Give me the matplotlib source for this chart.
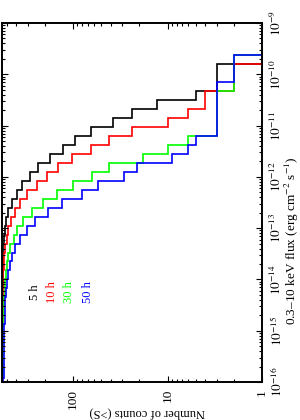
import numpy as np
import matplotlib
matplotlib.use("Agg")
import matplotlib.pyplot as plt
from matplotlib.ticker import LogLocator, NullFormatter

plt.rcParams['font.family'] = ['Liberation Serif', 'DejaVu Serif']
plt.rcParams['mathtext.fontset'] = 'stix'

# log10 flux bin edges, bright -> faint
log_flux_edges = [-9.0, -9.625, -9.8, -9.975, -10.15, -10.325, -10.5, -10.675,
                  -10.85, -11.025, -11.2, -11.375, -11.55, -11.725, -11.9,
                  -12.075, -12.25, -12.425, -12.6, -12.775, -12.95, -13.125,
                  -13.3, -13.475, -13.65, -13.825, -14.0, -14.175, -14.35,
                  -14.525, -14.7, -14.875, -15.05, -15.225, -15.4, -15.575,
                  -15.75, -15.925, -16.0]

# cumulative counts N(>S) in each flux bin, bright -> faint
counts_5h = [1, 1, 3, 3, 3, 5, 13, 24, 38, 65, 96, 128, 175, 236, 285, 347, 394,
             446, 483, 512, 530, 541, 548, 552, 555, 557, 558, 559, 560, 560,
             560, 560, 560, 560, 560, 560, 560, 560]
counts_10h = [1, 1, 2, 2, 2, 4, 4, 6, 10, 24, 42, 65, 102, 143, 190, 242, 309,
              364, 411, 453, 483, 505, 520, 532, 540, 546, 550, 553, 555, 557,
              558, 559, 560, 560, 560, 560, 560, 560]
counts_30h = [1, 2, 2, 2, 2, 3, 3, 3, 3, 3, 6, 10, 18, 42, 63, 99, 148, 207,
              270, 336, 394, 426, 464, 483, 500, 512, 522, 530, 536, 541, 545,
              548, 551, 553, 555, 557, 558, 559]
counts_50h = [1, 2, 2, 2, 3, 3, 3, 3, 3, 3, 5, 6, 9, 21, 29, 54, 81, 132, 182,
              252, 309, 364, 411, 446, 470, 490, 505, 515, 522, 527, 530, 533,
              536, 538, 540, 542, 544, 545]

labels = ["5 h", "10 h", "30 h", "50 h"]
colors = ["black", "#ff0000", "#00ff00", "#0000ff"]
flux_ticks = [1e-16, 1e-15, 1e-14, 1e-13, 1e-12, 1e-11, 1e-10, 1e-9]
flux_ticklabels = ["$10^{-16}$", "$10^{-15}$", "$10^{-14}$", "$10^{-13}$",
                   "$10^{-12}$", "$10^{-11}$", "$10^{-10}$", "$10^{-9}$"]
count_ticks = [1, 10, 100]
count_ticklabels = ["1", "10", "100"]

fig = plt.figure(figsize=(3.0, 4.2), dpi=100)
ax = fig.add_axes([2 / 300, 1 - 382 / 420, 260 / 300, 359 / 420])
ax.set_xscale("log")
ax.set_yscale("log")

edges = 10 ** np.array(log_flux_edges[::-1])
for counts, color in zip([counts_5h, counts_10h, counts_30h, counts_50h], colors):
    ax.stairs(np.array(counts[::-1]), edges, orientation="horizontal",
              baseline=None, color=color, lw=1.2)

ax.set_xlim(565, 1)
ax.set_ylim(1e-16, 1e-9)

ax.set_xticks(count_ticks)
ax.set_xticklabels(count_ticklabels)
ax.xaxis.set_minor_locator(LogLocator(base=10, subs=np.arange(2, 10), numticks=50))
ax.xaxis.set_minor_formatter(NullFormatter())
ax.set_yticks(flux_ticks)
ax.set_yticklabels(flux_ticklabels)
ax.yaxis.set_minor_locator(LogLocator(base=10, subs=np.arange(2, 10), numticks=50))
ax.yaxis.set_minor_formatter(NullFormatter())

ax.tick_params(which="both", direction="in", top=True, bottom=True,
               left=True, right=True, labelleft=False, labelright=True,
               width=0.8, labelsize=9.5)
ax.tick_params(which="major", length=4)
ax.tick_params(which="minor", length=2)
ax.tick_params(axis="x", labelrotation=90, pad=5)
ax.tick_params(axis="y", labelrotation=90, pad=5)
for sp in ax.spines.values():
    sp.set_linewidth(1.4)

ax.set_xlabel("Number of counts (>S)", rotation=180, fontsize=9)
ax.xaxis.set_label_coords(0.558, -0.068)
ax.yaxis.set_label_position("right")
ax.set_ylabel("0.3–10 keV flux (erg cm$^{-2}$ s$^{-1}$)", rotation=90,
              fontsize=9.5)
ax.yaxis.set_label_coords(1.079, 0.393)

# legend as coloured labels
label_x = [0.127, 0.192, 0.256, 0.330]
for lab, color, x in zip(labels, colors, label_x):
    ax.text(x, 0.251, lab, transform=ax.transAxes, rotation=90, ha="center",
            va="center", color=color, fontsize=9)

for t in ax.yaxis.get_ticklabels():
    t.set_va("center")

fig.savefig("out.png", dpi=100)
